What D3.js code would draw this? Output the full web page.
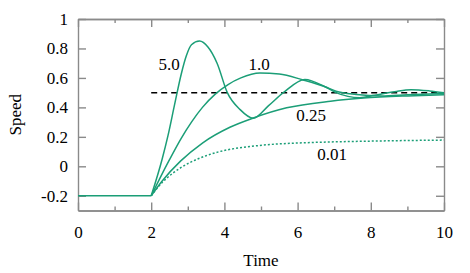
<!DOCTYPE html>
<html>
<head>
<meta charset="utf-8">
<script src="https://cdn.jsdelivr.net/npm/d3@7"></script>
<style>
  body { margin: 0; background: #fff; }
  text { font-family: "Liberation Serif", "DejaVu Serif", serif; }
</style>
</head>
<body>
<div id="chart"></div>
<script>
// data

// flat part before the step
var stepTime = [0, 2];
var stepSpeed = [-0.2, -0.2];

// reference speed (dashed)
var refTime = [2, 10];
var refSpeed = [0.5, 0.5];

// gain 5.0
var time50 = [2, 2.3, 2.46, 2.64, 2.82, 2.96, 3.1, 3.32, 3.55, 3.8, 4.08, 4.43, 4.79, 5.2, 5.61, 6.2, 6.75, 7.05, 7.7, 8.1, 8.65, 9.1, 9.6, 10];
var speed50 = [-0.2, 0.05, 0.21, 0.42, 0.625, 0.75, 0.825, 0.85, 0.81, 0.7, 0.5, 0.385, 0.326, 0.41, 0.5, 0.59, 0.54, 0.5, 0.466, 0.482, 0.506, 0.52, 0.512, 0.5];

// gain 1.0
var time10 = [2, 2.25, 2.5, 2.82, 3.1, 3.4, 3.75, 4.1, 4.45, 4.97, 5.5, 6.15, 6.75, 7.05, 7.6, 8.3, 9, 10];
var speed10 = [-0.2, -0.075, 0.045, 0.19, 0.3, 0.4, 0.49, 0.555, 0.6, 0.633, 0.627, 0.586, 0.54, 0.51, 0.488, 0.478, 0.486, 0.495];

// gain 0.25
var time025 = [2, 2.3, 2.8, 3.4, 4.15, 4.79, 5.7, 6.9, 7.8, 9, 10];
var speed025 = [-0.2, -0.1, 0.035, 0.158, 0.265, 0.328, 0.397, 0.442, 0.463, 0.478, 0.486];

// gain 0.01 (dotted)
var time001 = [2, 2.3, 2.6, 3.0, 3.5, 4.1, 4.5, 5.25, 6, 7, 8, 9, 10];
var speed001 = [-0.2, -0.11, -0.045, 0.018, 0.072, 0.113, 0.128, 0.148, 0.158, 0.166, 0.171, 0.175, 0.178];

// curve labels, anchored in data units (baseline)
var labelText = ["5.0", "1.0", "0.25", "0.01"];
var labelTime = [2.49, 4.95, 6.37, 6.94];
var labelSpeed = [0.654, 0.654, 0.307, 0.043];

var xMajor = [0, 2, 4, 6, 8, 10];
var xMinor = [1, 3, 5, 7, 9];
var yMajor = [-0.2, 0, 0.2, 0.4, 0.6, 0.8, 1];

var width = 470;
var height = 273;
var green = "#1b9e77";
var frameColor = "#8a8a8a";
var fontSize = 17;

var svg = d3
  .select("#chart")
  .append("svg")
  .attr("width", width)
  .attr("height", height);

var xscale = d3.scaleLinear().domain([0, 10]).range([78, 444]);
var yscale = d3.scaleLinear().domain([-0.3, 1]).range([210.5, 19]);

function pairs(t, s) {
  return t.map(function(d, i) {
    return [d, s[i]];
  });
}

var line = d3
  .line()
  .x(function(d) { return xscale(d[0]); })
  .y(function(d) { return yscale(d[1]); })
  .curve(d3.curveMonotoneX);

// axes, ticks pointing inwards
function fmt(d) {
  return String(+d.toFixed(1));
}

function styleAxis(g) {
  g.selectAll("path, line").attr("stroke", frameColor).attr("stroke-width", 1.4);
  g.selectAll("text")
    .attr("fill", "#000")
    .attr("font-family", "Liberation Serif")
    .attr("font-size", fontSize);
}

var axBottom = svg.append("g").attr("transform", "translate(0," + yscale(-0.3) + ")");
axBottom.call(d3.axisBottom(xscale).tickValues(xMajor).tickSizeInner(-8).tickSizeOuter(0).tickPadding(15).tickFormat(fmt));
axBottom.append("g").call(d3.axisBottom(xscale).tickValues(xMinor).tickSizeInner(-4).tickSizeOuter(0).tickFormat(""));
axBottom.call(styleAxis);

var axTop = svg.append("g").attr("transform", "translate(0," + yscale(1) + ")");
axTop.call(d3.axisTop(xscale).tickValues(xMajor).tickSizeInner(-8).tickSizeOuter(0).tickFormat(""));
axTop.append("g").call(d3.axisTop(xscale).tickValues(xMinor).tickSizeInner(-4).tickSizeOuter(0).tickFormat(""));
axTop.call(styleAxis);

var axLeft = svg.append("g").attr("transform", "translate(" + xscale(0) + ",0)");
axLeft.call(d3.axisLeft(yscale).tickValues(yMajor).tickSizeInner(-8).tickSizeOuter(0).tickPadding(10).tickFormat(fmt));
axLeft.call(styleAxis);

var axRight = svg.append("g").attr("transform", "translate(" + xscale(10) + ",0)");
axRight.call(d3.axisRight(yscale).tickValues(yMajor).tickSizeInner(-8).tickSizeOuter(0).tickFormat(""));
axRight.call(styleAxis);

// axis titles
svg.append("text")
  .attr("x", (xscale(0) + xscale(10)) / 2)
  .attr("y", 266)
  .attr("text-anchor", "middle")
  .attr("font-size", fontSize)
  .text("Time");

svg.append("text")
  .attr("transform", "translate(21," + (yscale(-0.3) + yscale(1)) / 2 + ")rotate(-90)")
  .attr("text-anchor", "middle")
  .attr("font-size", fontSize)
  .text("Speed");

// reference line
svg.append("path")
  .attr("d", line(pairs(refTime, refSpeed)))
  .attr("fill", "none")
  .attr("stroke", "#000")
  .attr("stroke-width", 1.5)
  .attr("stroke-dasharray", "6,4");

// responses
var solid = [pairs(stepTime, stepSpeed), pairs(time50, speed50), pairs(time10, speed10), pairs(time025, speed025)];

svg.selectAll("path.resp")
  .data(solid)
  .enter()
  .append("path")
  .attr("class", "resp")
  .attr("d", line)
  .attr("fill", "none")
  .attr("stroke", green)
  .attr("stroke-width", 1.5);

svg.append("path")
  .attr("d", line(pairs(time001, speed001)))
  .attr("fill", "none")
  .attr("stroke", green)
  .attr("stroke-width", 1.5)
  .attr("stroke-dasharray", "2,2");

// curve labels
svg.selectAll("text.lab")
  .data(labelText)
  .enter()
  .append("text")
  .attr("class", "lab")
  .attr("x", function(d, i) { return xscale(labelTime[i]); })
  .attr("y", function(d, i) { return yscale(labelSpeed[i]); })
  .attr("text-anchor", "middle")
  .attr("font-size", fontSize)
  .text(function(d) { return d; });
</script>
</body>
</html>
